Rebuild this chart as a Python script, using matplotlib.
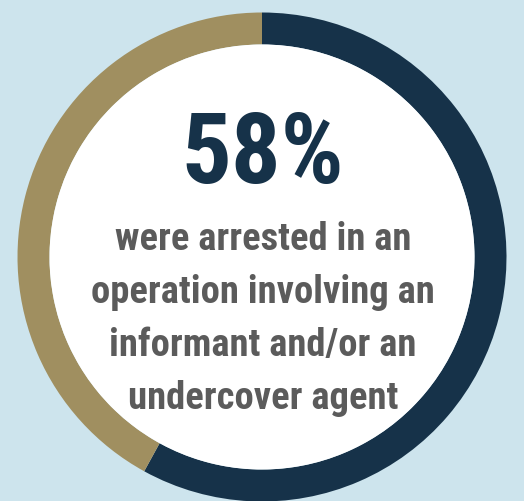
import matplotlib
matplotlib.use('Agg')
import matplotlib.pyplot as plt
from matplotlib.patches import Circle

# --- data ---
share_labels = ['informant / undercover agent', 'other']
share_values = [58, 42]
share_colors = ['#163249', '#a08f60']
headline = '58%'
caption_lines = [
    'were arrested in an',
    'operation involving an',
    'informant and/or an',
    'undercover agent',
]

W, H = 524, 502
BG = '#cde4ed'

fig = plt.figure(figsize=(W / 100, H / 100), dpi=100, facecolor=BG)
ax = fig.add_axes([0, 0, 1, 1])
ax.set_facecolor(BG)

cx, cy = 262, H - 258
r_out, ring = 244.5, 32

ax.pie(share_values, colors=share_colors, startangle=90, counterclock=False,
       radius=r_out, center=(cx, cy),
       wedgeprops=dict(width=ring, linewidth=0))
ax.add_patch(Circle((cx, cy), r_out - ring, facecolor='white', edgecolor='none', zorder=3))

ax.set_xlim(0, W)
ax.set_ylim(0, H)
ax.set_aspect('equal')
ax.axis('off')

ax.text(cx + 1, H - 183, headline, ha='center', va='baseline', fontsize=71,
        fontfamily='Roboto Condensed', fontweight='bold', color='#163249', zorder=4)

for i, line in enumerate(caption_lines):
    ax.text(cx + 1, H - (250 + 53 * i), line, ha='center', va='baseline', fontsize=27.8,
            fontfamily='Roboto Condensed', fontweight='bold', color='#5b5b5b', zorder=4)

fig.savefig('out.png', dpi=100, facecolor=BG)
